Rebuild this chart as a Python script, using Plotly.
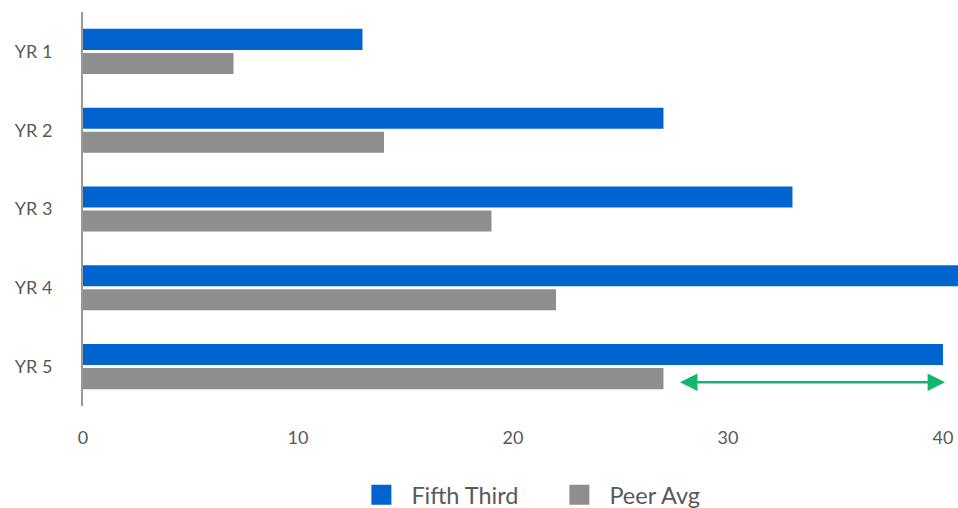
import plotly.graph_objects as go

categories = ["YR 1", "YR 2", "YR 3", "YR 4", "YR 5"]
fifth_third = [13, 27, 33, 41, 40]
peer_avg = [7, 14, 19, 22, 27]
x_ticks = [0, 10, 20, 30, 40]
arrow_from = 27.7
arrow_to = 40.1

BLUE = "#0064D0"
GRAY = "#8E8E8E"
GREEN = "#12B76E"
TXT = "#595959"
FONT = "Lato"

fig = go.Figure()
fig.add_trace(go.Bar(y=categories, x=fifth_third, orientation="h", name="Fifth Third",
                     marker=dict(color=BLUE, line=dict(width=0)), showlegend=False))
fig.add_trace(go.Bar(y=categories, x=peer_avg, orientation="h", name="Peer Avg",
                     marker=dict(color=GRAY, line=dict(width=0)), showlegend=False))
# legend entries with larger square swatches
fig.add_trace(go.Scatter(x=[None], y=[None], mode="markers", name="Fifth Third",
                         marker=dict(symbol="square", size=20, color=BLUE,
                                     line=dict(width=4, color=BLUE))))
fig.add_trace(go.Scatter(x=[None], y=[None], mode="markers", name="Peer Avg",
                         marker=dict(symbol="square", size=20, color=GRAY,
                                     line=dict(width=4, color=GRAY))))

fig.add_annotation(x=arrow_to, y=4.2, ax=arrow_from, ay=4.2, xref="x", yref="y",
                   axref="x", ayref="y", text="", showarrow=True,
                   arrowhead=2, startarrowhead=2, arrowside="end+start",
                   arrowsize=1.4, startarrowsize=1.4, arrowwidth=2.5, arrowcolor=GREEN)

fig.update_layout(
    width=958, height=508,
    margin=dict(l=83, r=0, t=12, b=102, autoexpand=False),
    paper_bgcolor="white", plot_bgcolor="white",
    barmode="group", bargap=0.39, bargroupgap=0.125,
    font=dict(family=FONT, size=18, color=TXT),
    showlegend=True,
    legend=dict(orientation="h", x=0.533, xanchor="center", y=-0.17, yanchor="top",
                font=dict(family=FONT, size=23.5, color=TXT), itemwidth=50,
                entrywidth=133, entrywidthmode="pixels",
                traceorder="normal"),
    xaxis=dict(range=[0, 40.7], tickvals=x_ticks, showgrid=False, zeroline=False,
               showline=False, ticks="", ticklabelstandoff=19,
               tickfont=dict(family=FONT, size=18, color=TXT)),
    yaxis=dict(autorange="reversed", showgrid=False, zeroline=False, showline=True,
               linecolor="#9A9A9A", linewidth=2, ticks="", ticklabelstandoff=25,
               tickfont=dict(family=FONT, size=18, color=TXT)),
)

fig.write_html("out.html", config={"displayModeBar": False},
               post_script="document.body.style.margin='0';document.body.style.padding='0';")
